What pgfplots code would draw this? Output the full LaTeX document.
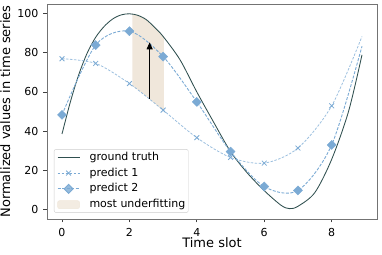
\documentclass[border=0pt]{standalone}
\usepackage{pgfplots}
\pgfplotsset{compat=1.18}
\usepgfplotslibrary{fillbetween}
\usetikzlibrary{arrows.meta}
\usepackage{fontspec}
\setmainfont{DejaVu Sans}
\definecolor{gtc}{RGB}{47,79,79}
\definecolor{pblue}{RGB}{123,170,212}
\definecolor{shadecol}{RGB}{240,231,219}
\begin{document}
\begin{tikzpicture}
\begin{axis}[
  scale only axis, width=330pt, height=215pt,
  xmin=-0.445, xmax=9.345, ymin=-5, ymax=105,
  xtick={0,2,4,6,8}, ytick={0,20,40,60,80,100},
  tick pos=left, tick align=outside, major tick length=3.5pt,
  tick style={black!75, line width=0.8pt},
  axis line style={black!55, line width=0.8pt},
  /pgf/number format/assume math mode=true,
  ticklabel style={font=\fontsize{11}{13}\selectfont, inner sep=0pt},
  xticklabel style={anchor=north, yshift=-5.3pt},
  yticklabel style={anchor=east, xshift=-5pt},
  xlabel={Time slot}, ylabel={Normalized values in time series},
  every axis x label/.style={at={(axis description cs:0.5,-0.0851)}, anchor=north, inner sep=0pt, font=\fontsize{13}{15}\selectfont},
  every axis y label/.style={at={(axis description cs:-0.1106,0.5)}, rotate=90, anchor=south, inner sep=0pt, font=\fontsize{13}{15}\selectfont},
  legend style={at={(0.021,0.029)}, anchor=south west, draw=black!20, rounded corners=2pt,
    fill=white, fill opacity=0.8, text opacity=1, font=\fontsize{11}{13}\selectfont,
    inner xsep=3pt, inner ysep=2.5pt, row sep=5pt,
    nodes={inner sep=0pt, text height=8.5pt, text depth=2.3pt},
    /tikz/every odd column/.append style={column sep=9.5pt}},
  legend cell align=left,
  legend image code/.code={\draw[mark repeat=2,mark phase=2,#1] plot coordinates {(0pt,0pt) (11pt,0pt) (22pt,0pt)};},
]
% ground truth
\addplot[gtc, line width=0.85pt, smooth, name path=gt, forget plot] coordinates {
(0,38.5) (0.25,55) (0.5,69) (0.75,80) (1,88) (1.25,93.5) (1.5,97.3) (1.75,99.4)
(2,100) (2.25,99.2) (2.5,97) (2.75,93) (3,88.4) (3.5,76.5) (4,60) (4.5,44.5)
(5,29.5) (5.5,18.5) (6,9.5) (6.5,2) (6.75,0.3) (7,1.5) (7.5,8.5) (8,25.5) (8.5,50) (8.9,79)};
% predict 1
\addplot[pblue, opacity=0.75, line width=0.8pt, dash pattern=on 2.5pt off 1.5pt, smooth, name path=p1, forget plot] coordinates {
(0,77) (1,74.6) (2,64.3) (3,50.7) (4,36.6) (5,26.5) (6,23.6) (7,31.3) (8,52.9) (8.9,88.4)};
\addplot[pblue, only marks, mark=x, mark size=3.4pt, mark options={line width=0.8pt}, forget plot] coordinates {
(0,77) (1,74.6) (2,64.3) (3,50.7) (4,36.6) (5,26.5) (6,23.6) (7,31.3) (8,52.9)};
% predict 2
\addplot[pblue, line width=0.9pt, dash pattern=on 3pt off 1.5pt, smooth, forget plot] coordinates {
(0,48.3) (1,84) (2,91.1) (3,78.1) (4,54.9) (5,29.5) (6,11.6) (7,9.6) (8,32.9) (8.9,83.4)};
\addplot[pblue, only marks, mark=square*, mark size=3.2pt, mark options={rotate=45, draw=pblue, fill=pblue}, forget plot] coordinates {
(0,48.3) (1,84) (2,91.1) (3,78.1) (4,54.9) (5,29.5) (6,11.6) (7,9.6) (8,32.9)};
% shading
\addplot[fill=shadecol, draw=none, forget plot] fill between[of=gt and p1, soft clip={domain=2.09:3.02}];
% arrow
\addplot[black, line width=0.9pt, -{Triangle[width=6pt,length=7pt]}, forget plot] coordinates {(2.6,56.3) (2.6,85.4)};

\addlegendimage{gtc, line width=0.85pt}
\addlegendentry{ground truth}
\addlegendimage{pblue, line width=0.8pt, dash pattern=on 2.5pt off 1.5pt, mark=x, mark size=3.4pt, mark options={solid}}
\addlegendentry{predict 1}
\addlegendimage{pblue, line width=0.9pt, dash pattern=on 3pt off 1.5pt, mark=square*, mark size=3.2pt, mark options={rotate=45, solid, fill=pblue}}
\addlegendentry{predict 2}
\addlegendimage{legend image code/.code={\fill[shadecol] (0pt,-4pt) rectangle (22pt,4pt);}}
\addlegendentry{most underfitting}
\end{axis}
\path (current axis.south west) ++(-47pt,-36pt);
\path (current axis.north east) ++(5pt,4pt);
\end{tikzpicture}
\end{document}
